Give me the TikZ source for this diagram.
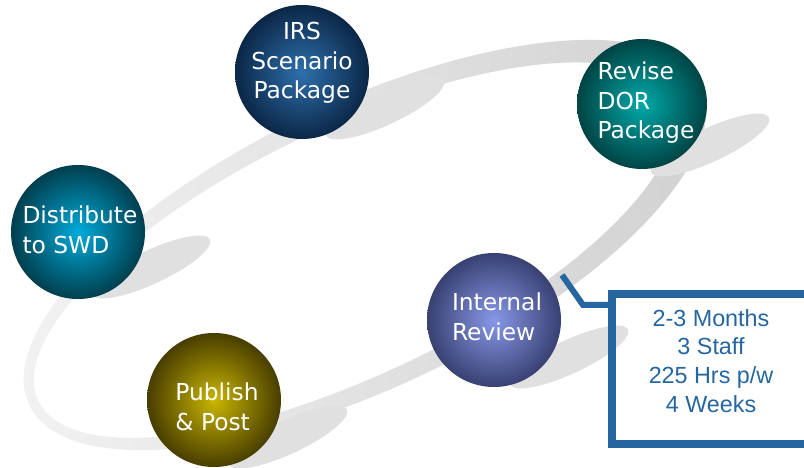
\documentclass[tikz,border=0pt]{standalone}
\usepackage{fontspec}
\newfontfamily\bubblefont{DejaVu Sans}
\newfontfamily\factfont{Liberation Sans}
\usetikzlibrary{calc}

\definecolor{ringlight}{HTML}{F3F3F3}
\definecolor{ringdark}{HTML}{D0D0D0}
\definecolor{shadowgray}{HTML}{E0E0E0}
\definecolor{factblue}{HTML}{2566A0}
\definecolor{irsin}{HTML}{2E70AC}
\definecolor{irsout}{HTML}{0B2747}
\definecolor{dorin}{HTML}{00A9A9}
\definecolor{dorout}{HTML}{004444}
\definecolor{swdin}{HTML}{00ABDA}
\definecolor{swdout}{HTML}{003F4E}
\definecolor{revin}{HTML}{8898E8}
\definecolor{revout}{HTML}{394172}
\definecolor{pubin}{HTML}{CAB600}
\definecolor{pubout}{HTML}{483E00}

\tikzset{
    bubble/.style={circle, minimum size=3.35cm, inner sep=0pt},
    bubbletext/.style={text=white, align=left, inner sep=0pt, font=\bubblefont\fontsize{16.6}{21}\selectfont},
    shadowfill/.style={fill=shadowgray},
    factbox/.style={rectangle, draw=factblue, line width=0.2cm, inner sep=0pt},
    facttext/.style={text=factblue, align=center, inner sep=0pt, font=\factfont\fontsize{16.6}{20.4}\selectfont},
}

\begin{document}
\begin{tikzpicture}
    \useasboundingbox (0,0) rectangle (20.1,11.7);

    % the ring
    \begin{scope}[shift={(9.125,5.575)}, rotate=25.5]
        \shade[even odd rule, left color=ringlight, right color=ringdark]
            (0,0) ellipse (9.3cm and 3.55cm) (-0.3,0) ellipse (8.75cm and 3.1cm);
    \end{scope}

    % shadows
    \fill[shadowfill, rotate around={25:(9.625,9)}] (9.625,9) ellipse (1.625cm and 0.42cm);
    \fill[shadowfill, rotate around={25:(17.75,8.075)}] (17.75,8.075) ellipse (1.625cm and 0.42cm);
    \fill[shadowfill, rotate around={25:(3.775,5.025)}] (3.775,5.025) ellipse (1.625cm and 0.42cm);
    \fill[shadowfill, rotate around={25:(7.2,0.775)}] (7.2,0.775) ellipse (1.625cm and 0.42cm);
    \fill[shadowfill, rotate around={25:(14.225,2.775)}] (14.225,2.775) ellipse (1.625cm and 0.42cm);

    % bubbles
    \node[bubble, inner color=irsin, outer color=irsout] (irs) at (7.55,9.9) {};
    \node[bubble, minimum size=3.25cm, inner color=dorin, outer color=dorout] (dor) at (16.05,9.1) {};
    \node[bubble, inner color=swdin, outer color=swdout] (swd) at (1.95,5.9) {};
    \node[bubble, inner color=revin, outer color=revout] (review) at (12.35,3.7) {};
    \node[bubble, inner color=pubin, outer color=pubout] (publish) at (5.35,1.7) {};

    \node[bubbletext, align=center] (irs-t) at (7.55,10.125) {IRS\\Scenario\\Package};
    \node[bubbletext] (dor-t) at (16.15,9.125) {Revise\\DOR\\Package};
    \node[bubbletext] (swd-t) at (2.0,5.95) {Distribute\\to SWD};
    \node[bubbletext] (review-t) at (12.425,3.775) {Internal\\Review};
    \node[bubbletext] (publish-t) at (5.425,1.525) {Publish\\\& Post};

    % callout
    \node[factbox, minimum width=4.95cm, minimum height=3.75cm] (facts) at (17.775,2.475) {};
    \node[facttext] (facts-t) at (17.775,2.675) {2-3 Months\\3 Staff\\225 Hrs p/w\\4 Weeks};
    \coordinate (tip) at (14.05,4.825);
    \coordinate (bend) at (14.575,4.075);
    \draw[factblue, line width=0.15cm] (tip) -- (bend) -- (bend -| facts.west);
\end{tikzpicture}
\end{document}
